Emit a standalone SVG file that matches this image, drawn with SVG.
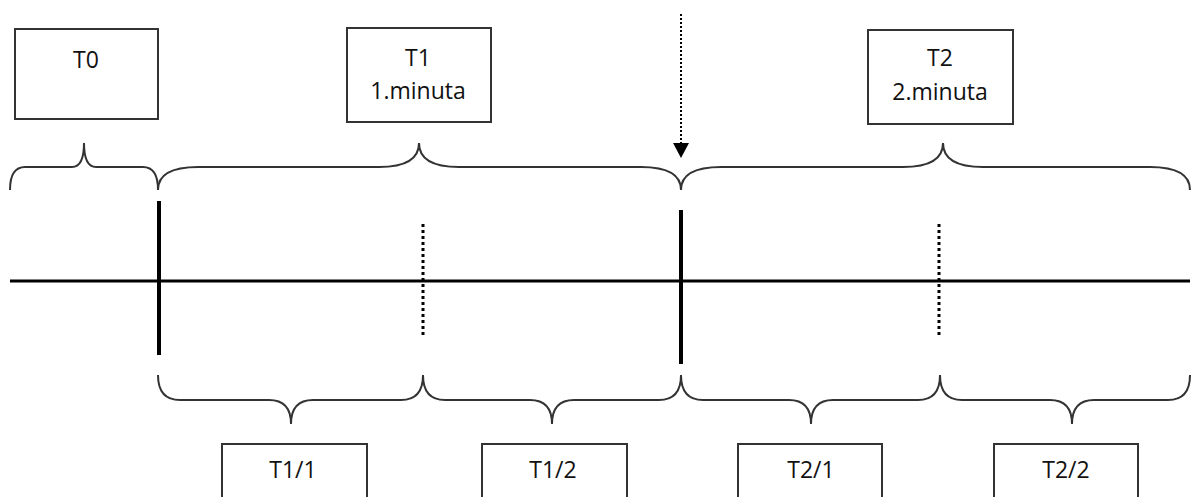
<svg xmlns="http://www.w3.org/2000/svg" width="1192" height="497" viewBox="0 0 1192 497">
<style>
.box{fill:#fff;stroke:#333;stroke-width:2}
.lbl{font-family:"Open Sans","Liberation Sans",sans-serif;font-size:23px;fill:#111;text-anchor:middle}
.brace{fill:none;stroke:#333;stroke-width:2}
.axis{stroke:#000;stroke-width:3;fill:none}
.tick{stroke:#000;stroke-width:4;fill:none}
.dot{stroke:#000;stroke-width:3;stroke-dasharray:3 3;fill:none}
</style>
<defs>
<marker id="ah" markerWidth="16" markerHeight="16" refX="15" refY="8" orient="auto" markerUnits="userSpaceOnUse" viewBox="0 0 16 16">
<path d="M0,0 L15,8 L0,16 Z" fill="#000"/>
</marker>
</defs>
<rect width="1192" height="497" fill="#fff"/>
<g id="connectors">
<line class="axis" x1="10" y1="281" x2="1190" y2="281"/>
<line class="tick" x1="159" y1="201" x2="159" y2="355"/>
<line class="tick" x1="681" y1="210" x2="681" y2="364"/>
<line class="dot" x1="423" y1="224" x2="423" y2="338"/>
<line class="dot" x1="939" y1="224" x2="939" y2="338"/>
<line x1="681" y1="14" x2="681" y2="158" stroke="#000" stroke-width="2" stroke-dasharray="2 2" marker-end="url(#ah)"/>
<path class="brace" d="M10,190 Q10,167 25,167 L72,167 Q84,167 84,143 Q84,167 96,167 L143,167 Q158,167 158,190"/>
<path class="brace" d="M158,190 Q158,167 198,167 L379,167 Q419,167 419,143 Q419,167 459,167 L641,167 Q681,167 681,190"/>
<path class="brace" d="M681,190 Q681,167 721,167 L903,167 Q943,167 943,143 Q943,167 983,167 L1150,167 Q1190,167 1190,190"/>
<path class="brace" d="M158,375 Q158,400 180,400 L269,400 Q291,400 291,424 Q291,400 313,400 L401,400 Q423,400 423,375 Q423,400 445,400 L530,400 Q552,400 552,424 Q552,400 574,400 L659,400 Q681,400 681,375"/>
<path class="brace" d="M681,375 Q681,400 703,400 L789,400 Q811,400 811,424 Q811,400 833,400 L918,400 Q940,400 940,375 Q940,400 962,400 L1050,400 Q1072,400 1072,424 Q1072,400 1094,400 L1168,400 Q1190,400 1190,375"/>
</g>
<g id="T0"><rect class="box" x="15" y="29" width="143" height="90"/><text class="lbl" x="86" y="68">T0</text></g>
<g id="T1"><rect class="box" x="347" y="28" width="144" height="94"/><text class="lbl" x="418" y="66">T1</text><text class="lbl" x="418" y="99">1.minuta</text></g>
<g id="T2"><rect class="box" x="868" y="30" width="145" height="94"/><text class="lbl" x="940" y="66">T2</text><text class="lbl" x="940" y="100">2.minuta</text></g>
<g id="T1_1"><rect class="box" x="222" y="444" width="145" height="60"/><text class="lbl" x="293" y="478">T1/1</text></g>
<g id="T1_2"><rect class="box" x="482" y="444" width="145" height="60"/><text class="lbl" x="553" y="478">T1/2</text></g>
<g id="T2_1"><rect class="box" x="738" y="444" width="144" height="60"/><text class="lbl" x="811" y="478">T2/1</text></g>
<g id="T2_2"><rect class="box" x="994" y="444" width="144" height="60"/><text class="lbl" x="1066" y="478">T2/2</text></g>
</svg>
